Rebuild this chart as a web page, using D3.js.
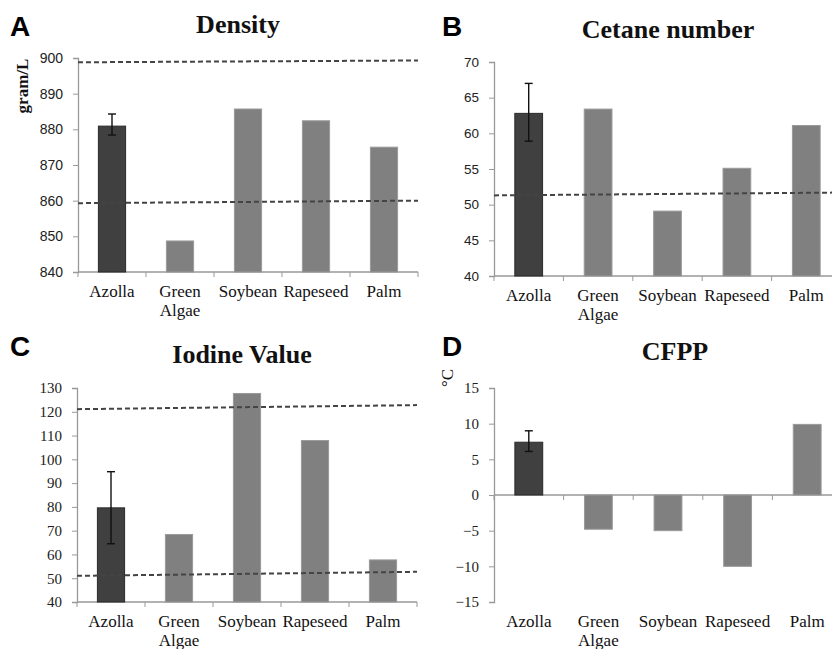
<!DOCTYPE html>
<html>
<head>
<meta charset="utf-8">
<script src="https://cdn.jsdelivr.net/npm/d3@7"></script>
<style>
  body { margin: 0; background: #fff; }
  svg { display: block; }
  .serif { font-family: "Liberation Serif", "Times New Roman", "DejaVu Serif", serif; }
  .sans { font-family: "Liberation Sans", Arial, "DejaVu Sans", sans-serif; }
</style>
</head>
<body>
<div id="chart"></div>
<script>
// categories shared by all four panels
var categories = ["Azolla", "Green Algae", "Soybean", "Rapeseed", "Palm"];

// values
var densityValues = [880.9, 848.7, 885.7, 882.4, 875.0];
var cetaneValues = [62.8, 63.4, 49.1, 55.1, 61.1];
var iodineValues = [79.6, 68.4, 127.7, 107.9, 57.7];
var cfppValues = [7.4, -4.8, -5.0, -10.0, 9.9];

// error bar on Azolla only [low, high]
var densityError = [878.4, 884.3];
var cetaneError = [58.9, 67.0];
var iodineError = [64.5, 94.8];
var cfppError = [6.1, 9.0];

// dashed limit lines [value at left, value at right]
var densityLimits = [[898.8, 899.3], [859.3, 860.0]];
var cetaneLimits = [[51.3, 51.7]];
var iodineLimits = [[121.1, 122.8], [51.0, 52.7]];
var cfppLimits = [];

// y ticks
var densityTicks = [840, 850, 860, 870, 880, 890, 900];
var cetaneTicks = [40, 45, 50, 55, 60, 65, 70];
var iodineTicks = [40, 50, 60, 70, 80, 90, 100, 110, 120, 130];
var cfppTicks = [-15, -10, -5, 0, 5, 10, 15];

var width = 832;
var height = 649;
var svg = d3.select('#chart')
    .append("svg")
    .attr("width", width)
    .attr("height", height);

var panels = [
    { letter: "A", title: "Density", values: densityValues, err: densityError, limits: densityLimits, ticks: densityTicks,
      left: 78, top: 58, w: 340, h: 214, lx: 10, ly: 36, tx: 238, ty: 33, tickClass: "sans", tickSize: "14px",
      ylabel: "gram/L", ylx: 22, yly: 86, ylBold: true, ylSize: "17px" },
    { letter: "B", title: "Cetane number", values: cetaneValues, err: cetaneError, limits: cetaneLimits, ticks: cetaneTicks,
      left: 494, top: 62, w: 347, h: 214, lx: 442, ly: 36, tx: 668, ty: 38, tickClass: "sans", tickSize: "13.5px" },
    { letter: "C", title: "Iodine Value", values: iodineValues, err: iodineError, limits: iodineLimits, ticks: iodineTicks,
      left: 77, top: 388, w: 340, h: 214, lx: 10, ly: 356, tx: 242, ty: 363, tickClass: "serif", tickSize: "15px" },
    { letter: "D", title: "CFPP", values: cfppValues, err: cfppError, limits: cfppLimits, ticks: cfppTicks,
      left: 494, top: 388, w: 348, h: 214, lx: 442, ly: 356, tx: 675, ty: 360, tickClass: "serif", tickSize: "15px",
      ylabel: "°C", ylx: 447, yly: 378, ylBold: false, ylSize: "17px" }
];

panels.forEach(function (p) {
    var g = svg.append("g")
        .attr("transform", "translate(" + p.left + "," + p.top + ")");

    var xScale = d3.scaleBand()
        .domain(categories)
        .range([0, p.w])
        .padding(0);
    var yScale = d3.scaleLinear()
        .domain(d3.extent(p.ticks))
        .range([p.h, 0]);

    // bars grow from zero when zero is in range, otherwise from the bottom
    var baseVal = yScale.domain()[0] > 0 ? yScale.domain()[0] : 0;
    var barW = xScale.bandwidth() * 0.4;

    // y axis
    var yAxis = g.append("g")
        .call(d3.axisLeft(yScale).tickValues(p.ticks).tickSize(5).tickPadding(10));
    yAxis.attr("font-family", null).attr("font-size", null);
    yAxis.select(".domain").attr("stroke", "#999").attr("stroke-width", 1.3);
    yAxis.selectAll(".tick line").attr("stroke", "#999");
    yAxis.selectAll(".tick text")
        .attr("class", p.tickClass)
        .attr("fill", "#222")
        .style("font-size", p.tickSize);

    // x axis at zero (or bottom)
    var xAxisY = yScale(baseVal);
    var xAxis = g.append("g").attr("transform", "translate(0," + xAxisY + ")");
    xAxis.append("line")
        .attr("x1", 0).attr("x2", p.w)
        .attr("stroke", "#999").attr("stroke-width", 1.3);
    xAxis.selectAll(".xt")
        .data(d3.range(categories.length + 1))
        .enter().append("line")
        .attr("x1", function (i) { return i * xScale.step(); })
        .attr("x2", function (i) { return i * xScale.step(); })
        .attr("y1", 0).attr("y2", 5)
        .attr("stroke", "#999");

    // bars
    g.selectAll(".bar")
        .data(p.values)
        .enter().append("rect")
        .attr("x", function (d, i) { return xScale(categories[i]) + (xScale.bandwidth() - barW) / 2; })
        .attr("y", function (d) { return yScale(Math.max(d, baseVal)); })
        .attr("width", barW)
        .attr("height", function (d) { return Math.abs(yScale(d) - yScale(baseVal)); })
        .style("fill", function (d, i) { return i === 0 ? "#404040" : "#808080"; })
        .style("stroke", function (d, i) { return i === 0 ? "#2a2a2a" : "#9a9a9a"; })
        .style("stroke-width", 1);

    // error bar on Azolla
    var cx = xScale(categories[0]) + xScale.bandwidth() / 2;
    g.append("line")
        .attr("x1", cx).attr("x2", cx)
        .attr("y1", yScale(p.err[0])).attr("y2", yScale(p.err[1]))
        .attr("stroke", "#111").attr("stroke-width", 1.4);
    p.err.forEach(function (e) {
        g.append("line")
            .attr("x1", cx - 4).attr("x2", cx + 4)
            .attr("y1", yScale(e)).attr("y2", yScale(e))
            .attr("stroke", "#111").attr("stroke-width", 1.4);
    });

    // dashed limit lines
    p.limits.forEach(function (l) {
        g.append("line")
            .attr("x1", 0).attr("x2", p.w)
            .attr("y1", yScale(l[0])).attr("y2", yScale(l[1]))
            .attr("stroke", "#444")
            .attr("stroke-width", 2)
            .attr("stroke-dasharray", "5,3");
    });

    // category labels
    var labels = g.selectAll(".cat")
        .data(categories)
        .enter().append("text")
        .attr("class", "serif")
        .attr("x", function (d) { return xScale(d) + xScale.bandwidth() / 2; })
        .attr("y", p.h + 25)
        .attr("text-anchor", "middle")
        .style("font-size", "17px")
        .attr("fill", "#111");
    labels.each(function (d) {
        var words = d.split(" ");
        var t = d3.select(this);
        words.forEach(function (w, k) {
            t.append("tspan")
                .attr("x", xScale(d) + xScale.bandwidth() / 2)
                .attr("dy", k === 0 ? 0 : 19)
                .text(w);
        });
    });

    // title
    svg.append("text")
        .attr("class", "serif")
        .attr("x", p.tx).attr("y", p.ty)
        .attr("text-anchor", "middle")
        .style("font-weight", "bold")
        .style("font-size", "26px")
        .attr("fill", "#111")
        .text(p.title);

    // panel letter
    svg.append("text")
        .attr("class", "sans")
        .attr("x", p.lx).attr("y", p.ly)
        .style("font-weight", "bold")
        .style("font-size", "28px")
        .attr("fill", "#000")
        .text(p.letter);

    // y label
    if (p.ylabel) {
        svg.append("text")
            .attr("class", "serif")
            .attr("transform", "translate(" + p.ylx + "," + p.yly + ") rotate(-90)")
            .attr("text-anchor", "middle")
            .attr("dy", "0.35em")
            .style("font-weight", p.ylBold ? "bold" : "normal")
            .style("font-size", p.ylSize)
            .attr("fill", "#111")
            .text(p.ylabel);
    }
});
</script>
</body>
</html>
